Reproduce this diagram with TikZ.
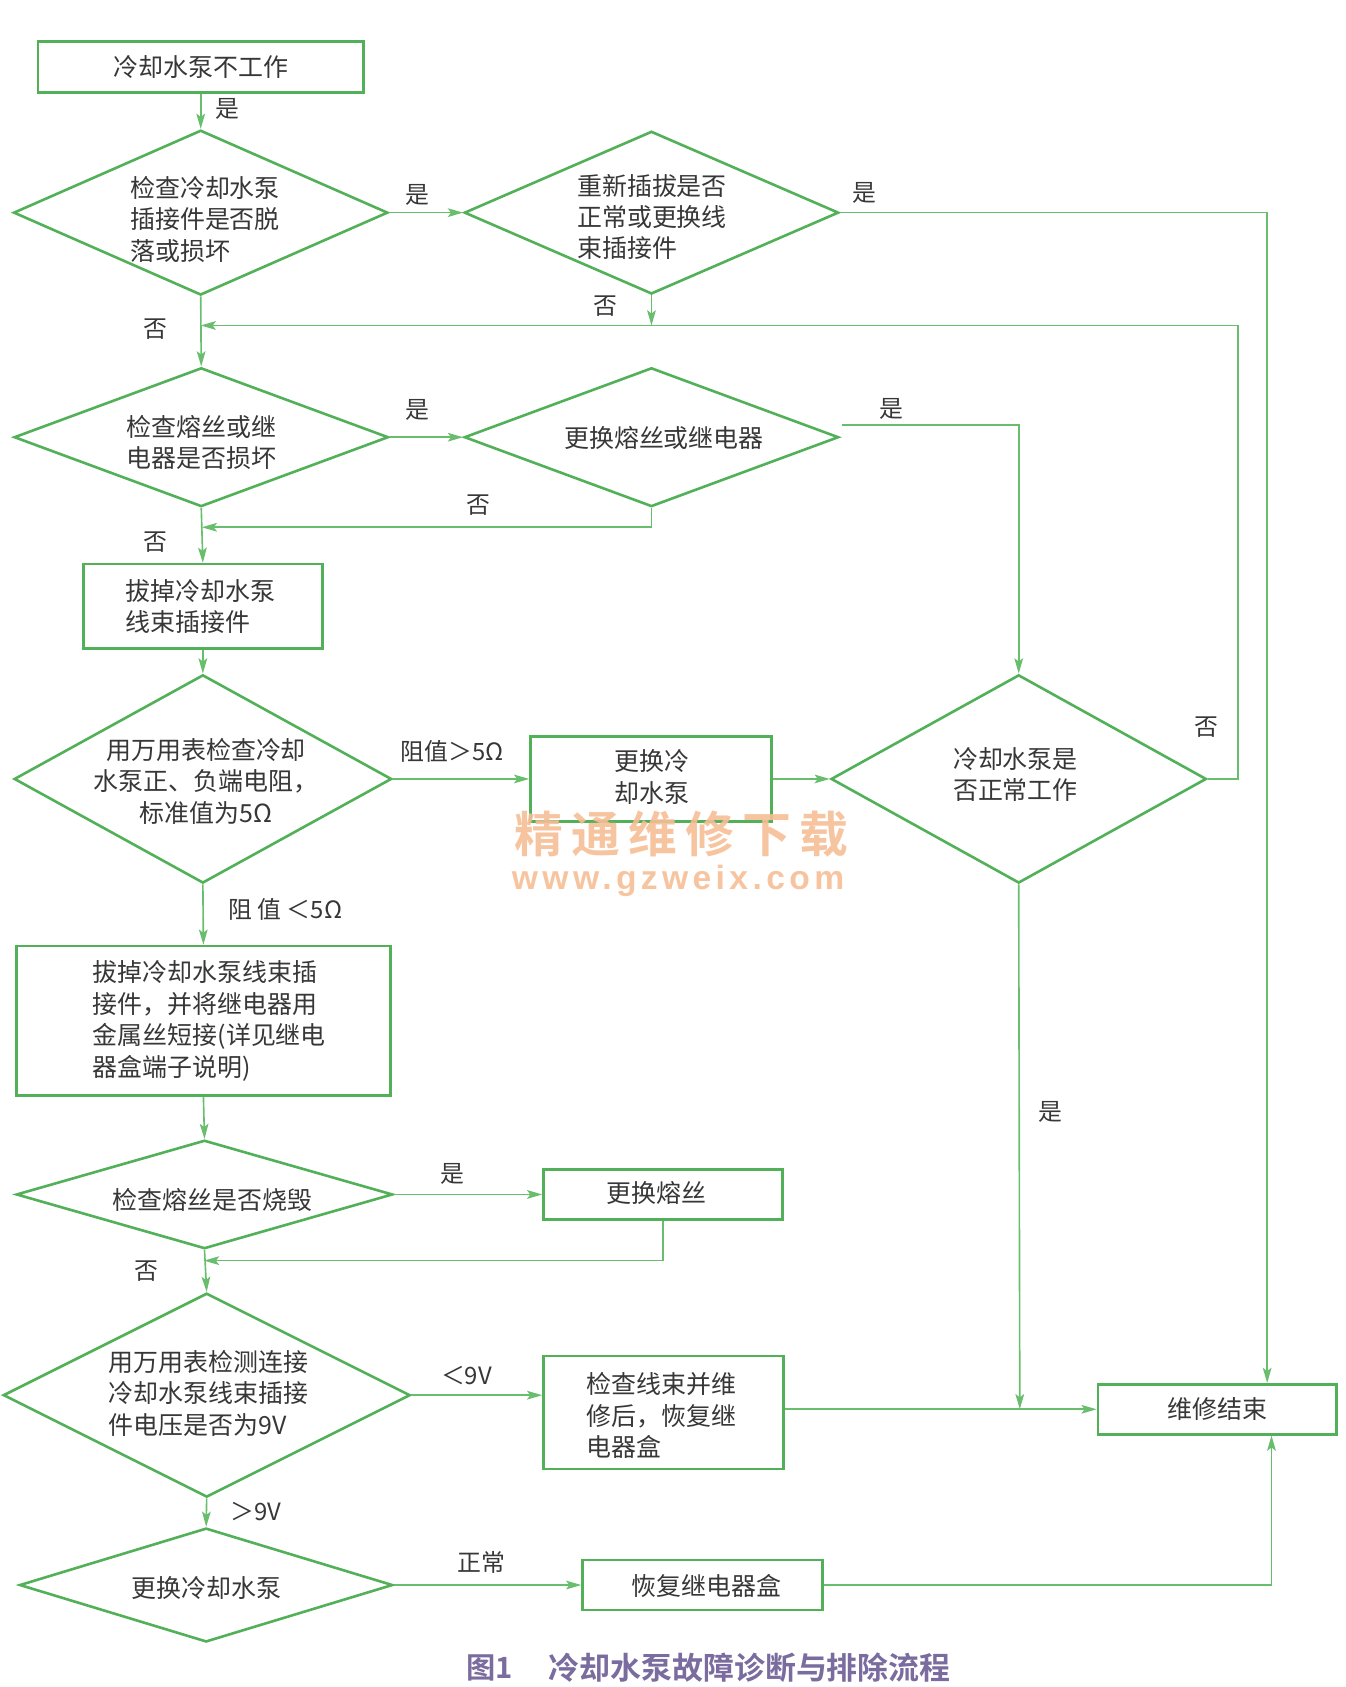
\documentclass[tikz,border=0pt]{standalone}
\usepackage{fontspec}
\usetikzlibrary{shapes.geometric,arrows.meta,calc}
\newfontfamily\cjk{Noto Sans CJK SC}
\newfontfamily\cjkb{Noto Sans CJK SC Bold}
\newfontfamily\wmfont{Liberation Sans}
\definecolor{gline}{RGB}{82,176,88}
\definecolor{gconn}{RGB}{104,190,108}
\definecolor{txtc}{RGB}{55,55,55}
\definecolor{capc}{RGB}{122,108,158}
\definecolor{wmc}{RGB}{246,190,150}
\tikzset{
  shp/.style={draw=gline,line width=2.4pt,inner sep=0pt,fill=white},
  boxn/.style={shp,rectangle},
  dia/.style={shp,diamond},
  txt/.style={font=\cjk\fontsize{23}{29}\selectfont,text=txtc,inner sep=0pt},
  lbl/.style={font=\cjk\fontsize{22}{26}\selectfont,text=txtc,inner sep=0pt},
  conn/.style={draw=gconn,line width=1.5pt,-{Stealth[length=14pt,width=8pt,inset=3pt]}},
  plain/.style={draw=gconn,line width=1.5pt}
}
\begin{document}
\begin{tikzpicture}[x=1pt,y=-1pt]
\useasboundingbox (0,0) rectangle (1240,1555);
% shapes
\node[boxn,minimum width=300,minimum height=47] (top) at (185,61.5) {};
\node[txt] (topt) at (top) {冷却水泵不工作};
\node[dia,minimum width=345,minimum height=152] (d1) at (185,196) {};
\node[txt,align=left] (d1t) at (189,202) {检查冷却水泵\\插接件是否脱\\落或损坏};
\node[dia,minimum width=345,minimum height=150] (d2) at (600.5,196) {};
\node[txt,align=left] (d2t) at (601,200) {重新插拔是否\\正常或更换线\\束插接件};
\node[dia,minimum width=345,minimum height=128] (d3) at (185.5,403) {};
\node[txt,align=left] (d3t) at (186,408) {检查熔丝或继\\电器是否损坏};
\node[dia,minimum width=345,minimum height=128] (d4) at (600.5,403) {};
\node[txt] (d4t) at (612,404) {更换熔丝或继电器};
\node[boxn,minimum width=220,minimum height=78] (b2) at (187,559) {};
\node[txt,align=left] (b2t) at (185,559) {拔掉冷却水泵\\线束插接件};
\node[dia,minimum width=348,minimum height=192] (d5) at (187,718) {};
\node[txt,align=center] (d5t) at (190,720) {用万用表检查冷却\\水泵正、负端电阻，\\标准值为5Ω};
\node[boxn,minimum width=222,minimum height=78] (b3) at (600,718) {};
\node[txt,align=left] (b3t) at (601,716) {更换冷\\却水泵};
\node[dia,minimum width=346,minimum height=192] (d6) at (939,718) {};
\node[txt,align=left] (d6t) at (936,714) {冷却水泵是\\否正常工作};
\node[boxn,minimum width=345,minimum height=138] (b4) at (187.5,941) {};
\node[txt,align=left] (b4t) at (193,941) {拔掉冷却水泵线束插\\接件，并将继电器用\\金属丝短接(详见继电\\器盒端子说明)};
\node[dia,minimum width=347,minimum height=100] (d7) at (188.5,1101) {};
\node[txt] (d7t) at (196,1106) {检查熔丝是否烧毁};
\node[boxn,minimum width=220,minimum height=46] (b5) at (611,1101) {};
\node[txt] (b5t) at (605,1100) {更换熔丝};
\node[dia,minimum width=375,minimum height=188] (d8) at (190.5,1286) {};
\node[txt,align=left] (d8t) at (192,1284) {用万用表检测连接\\冷却水泵线束插接\\件电压是否为9V};
\node[boxn,minimum width=221,minimum height=104] (b6) at (611.5,1302) {};
\node[txt,align=left] (b6t) at (610,1305) {检查线束并维\\修后，恢复继\\电器盒};
\node[boxn,minimum width=220,minimum height=46] (end) at (1122,1299) {};
\node[txt] (endt) at (end) {维修结束};
\node[dia,minimum width=344,minimum height=105] (d9) at (190,1461) {};
\node[txt] (d9t) at (190,1464) {更换冷却水泵};
\node[boxn,minimum width=221,minimum height=46] (b7) at (647.5,1461) {};
\node[txt] (b7t) at (651,1462) {恢复继电器盒};
% junction points
\coordinate (r1) at (1168,196);
\coordinate (j1) at (185,300);
\coordinate (r2) at (1141,300);
\coordinate (j2) at (186,486);
\coordinate (j3) at (940,1299);
\coordinate (j4) at (188,1162);
\coordinate (r3) at (1172,1461);
% connectors
\draw[conn] (top.south) -- (d1.north);
\draw[conn] (d1.east) -- (d2.west);
\draw[conn] (d2.east) -- (d2.east -| r1) -- (r1 |- end.north);
\draw[conn] (d2.south) -- (d2.south |- j1);
\draw[conn] (d6.east) -- (r2 |- d6.east) -- (r2) -- (j1);
\draw[conn] (d1.south) -- (d3.north);
\draw[conn] (d3.east) -- (d4.west);
\draw[conn] ($(d4.east)+(2,-11)$) -| (d6.north);
\draw[conn] (d4.south) -- (d4.south |- j2) -- (j2);
\draw[conn] (d3.south) -- (b2.north);
\draw[conn] (b2.south) -- (d5.north);
\draw[conn] (d5.east) -- (b3.west);
\draw[conn] (b3.east) -- (d6.west);
\draw[conn] (d6.south) -- (j3);
\draw[conn] (d5.south) -- (b4.north);
\draw[conn] (b4.south) -- (d7.north);
\draw[conn] (d7.east) -- (b5.west);
\draw[conn] (b5.south) -- (b5.south |- j4) -- (j4);
\draw[conn] (d7.south) -- (d8.north);
\draw[conn] (d8.east) -- (d8.east -| b6.west);
\draw[conn] (b6.east |- end.west) -- (end.west);
\draw[conn] (d8.south) -- (d9.north);
\draw[conn] (d9.east) -- (b7.west);
\draw[conn] (b7.east) -- (r3) -- (r3 |- end.south);
% labels
\node[lbl] (l1) at (210,100) {是};
\node[lbl] (l2) at (385,180) {是};
\node[lbl] (l3) at (797,178) {是};
\node[lbl] (l4) at (558,282) {否};
\node[lbl] (l5) at (143,303) {否};
\node[lbl] (l6) at (1112,670) {否};
\node[lbl] (l7) at (385,378) {是};
\node[lbl] (l8) at (822,377) {是};
\node[lbl] (l9) at (441,466) {否};
\node[lbl] (l10) at (143,500) {否};
\node[lbl] (l11) at (417,693) {阻值＞5Ω};
\node[lbl] (l12) at (263,838) {阻\ 值\ ＜5Ω};
\node[lbl] (l13) at (968,1025) {是};
\node[lbl] (l14) at (417,1082) {是};
\node[lbl] (l15) at (135,1172) {否};
\node[lbl] (l16) at (430,1268) {＜9V};
\node[lbl] (l17) at (236,1393) {＞9V};
\node[lbl] (l18) at (444,1440) {正常};
% watermark (drawn over the chart, as in the reference)
\node[font=\cjkb\fontsize{45}{48}\selectfont,text=wmc,inner sep=0pt,opacity=0.9] (wm1) at (628,769) {\addfontfeatures{LetterSpace=17}精通维修下载};
\node[font=\wmfont\bfseries\fontsize{31}{34}\selectfont,text=wmc,inner sep=0pt,opacity=0.9] (wm2) at (625,812) {\addfontfeatures{LetterSpace=13}www.gzweix.com};
% caption
\node[font=\cjkb\fontsize{27}{31}\selectfont,text=capc,inner sep=0pt] (cap1) at (451,1537) {图1};
\node[font=\cjkb\fontsize{28.5}{32}\selectfont,text=capc,inner sep=0pt] (cap2) at (691,1537) {冷却水泵故障诊断与排除流程};
\end{tikzpicture}
\end{document}
